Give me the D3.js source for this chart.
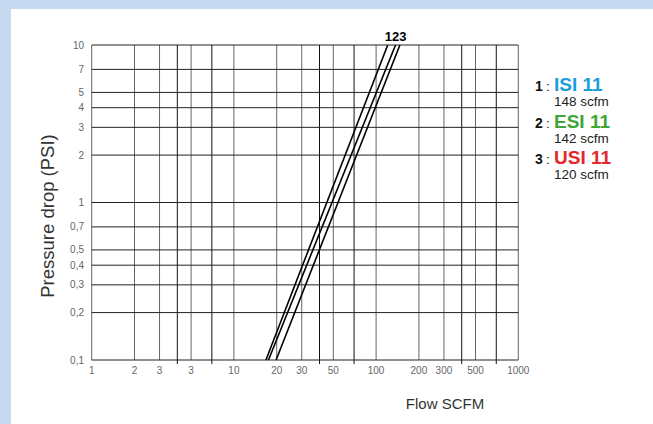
<!DOCTYPE html>
<html>
<head>
<meta charset="utf-8">
<script src="https://cdn.jsdelivr.net/npm/d3@7"></script>
<style>
  html, body { margin: 0; padding: 0; background: #c6d9f1; }
  svg { display: block; }
  text { font-family: "Liberation Sans", Arial, sans-serif; }
</style>
</head>
<body>
<div id="chart"></div>
<script>
// grid / tick values
var xGrid = [1, 2, 3, 4, 5, 7, 10, 20, 30, 40, 50, 70, 100, 200, 300, 400, 500, 700, 1000];
var xTickVals = [1, 2, 3, 5, 10, 20, 30, 50, 100, 200, 300, 500, 1000];
var xTickLabels = ['1', '2', '3', '3', '10', '20', '30', '50', '100', '200', '300', '500', '1000'];
var yTickVals = [0.1, 0.2, 0.3, 0.4, 0.5, 0.7, 1, 2, 3, 4, 5, 7, 10];
var yTickLabels = ['0,1', '0,2', '0,3', '0,4', '0,5', '0,7', '1', '2', '3', '4', '5', '7', '10'];

// each curve: flow at 0.1 psi and flow at 10 psi
var seriesIds = ['1', '2', '3'];
var flowAtLow = [16.8, 17.5, 19.8];
var flowAtHigh = [120.7, 137, 147];
var pressures = [0.1, 10];

var legendNames = ['ISI 11', 'ESI 11', 'USI 11'];
var legendFlows = ['148 scfm', '142 scfm', '120 scfm'];
var legendColors = ['#1b9ddb', '#3fa535', '#e3272b'];

var W = 653, H = 424;
var svg = d3.select('#chart').append('svg')
	.attr('width', W).attr('height', H);

svg.append('rect').attr('x', 0).attr('y', 0).attr('width', W).attr('height', H).attr('fill', '#c6d9f1');
svg.append('rect').attr('x', 11).attr('y', 9).attr('width', W - 11).attr('height', H - 9).attr('fill', '#ffffff');

var x = d3.scaleLog().domain([1, 1000]).range([91.7, 518.3]);
var y = d3.scaleLog().domain([0.1, 10]).range([360, 45]);

// vertical grid lines; unlabelled ones poke below the axis a little
svg.append('g').selectAll('line').data(xGrid).enter().append('line')
	.attr('x1', function (d) { return x(d); }).attr('x2', function (d) { return x(d); })
	.attr('y1', y(10))
	.attr('y2', function (d) { return xTickVals.indexOf(d) < 0 ? y(0.1) + 4 : y(0.1); })
	.attr('stroke', function (d) { return xTickVals.indexOf(d) < 0 ? '#111' : '#666'; })
	.attr('stroke-width', 1);

// horizontal grid lines
svg.append('g').selectAll('line').data(yTickVals).enter().append('line')
	.attr('x1', x(1)).attr('x2', x(1000))
	.attr('y1', function (d) { return y(d); }).attr('y2', function (d) { return y(d); })
	.attr('stroke', '#222')
	.attr('stroke-width', 1);

// x tick labels
svg.append('g').selectAll('text').data(xTickVals).enter().append('text')
	.attr('x', function (d) { return x(d); })
	.attr('y', 373.5)
	.attr('text-anchor', 'middle')
	.attr('font-size', 10)
	.attr('fill', '#666')
	.text(function (d, i) { return xTickLabels[i]; });

// y tick labels
svg.append('g').selectAll('text').data(yTickVals).enter().append('text')
	.attr('x', 84)
	.attr('y', function (d) { return y(d) + 3.5; })
	.attr('text-anchor', 'end')
	.attr('font-size', 10)
	.attr('fill', '#666')
	.text(function (d, i) { return yTickLabels[i]; });

// the three pressure-drop lines
var line = d3.line()
	.x(function (d) { return x(d[0]); })
	.y(function (d) { return y(d[1]); });

svg.append('g').selectAll('path').data(seriesIds).enter().append('path')
	.attr('d', function (d, i) {
		return line([[flowAtLow[i], pressures[0]], [flowAtHigh[i], pressures[1]]]);
	})
	.attr('fill', 'none')
	.attr('stroke', '#000')
	.attr('stroke-width', 1.6);

svg.append('text')
	.attr('x', x(d3.mean(flowAtHigh)) + 1)
	.attr('y', 41)
	.attr('text-anchor', 'middle')
	.attr('font-size', 13)
	.attr('font-weight', 'bold')
	.attr('fill', '#000')
	.text(seriesIds.join(''));

// axis titles
svg.append('text')
	.attr('transform', 'translate(54,216) rotate(-90)')
	.attr('text-anchor', 'middle')
	.attr('font-size', 18.5)
	.attr('fill', '#333')
	.text('Pressure drop (PSI)');

svg.append('text')
	.attr('x', 445)
	.attr('y', 409)
	.attr('text-anchor', 'middle')
	.attr('font-size', 15)
	.attr('fill', '#333')
	.text('Flow SCFM');

// legend
var leg = svg.append('g').selectAll('g').data(legendNames).enter().append('g')
	.attr('transform', function (d, i) { return 'translate(535,' + (91 + i * 36.5) + ')'; });

leg.append('text')
	.attr('x', 0).attr('y', 0)
	.attr('font-size', 14).attr('font-weight', 'bold').attr('fill', '#111')
	.text(function (d, i) { return seriesIds[i]; });
leg.append('text')
	.attr('x', 11).attr('y', 0)
	.attr('font-size', 13).attr('fill', '#111')
	.text(':');
leg.append('text')
	.attr('x', 19).attr('y', 0)
	.attr('font-size', 19).attr('font-weight', 'bold')
	.attr('fill', function (d, i) { return legendColors[i]; })
	.text(function (d) { return d; });
leg.append('text')
	.attr('x', 19).attr('y', 15)
	.attr('font-size', 13.5).attr('fill', '#222')
	.text(function (d, i) { return legendFlows[i]; });
</script>
</body>
</html>
